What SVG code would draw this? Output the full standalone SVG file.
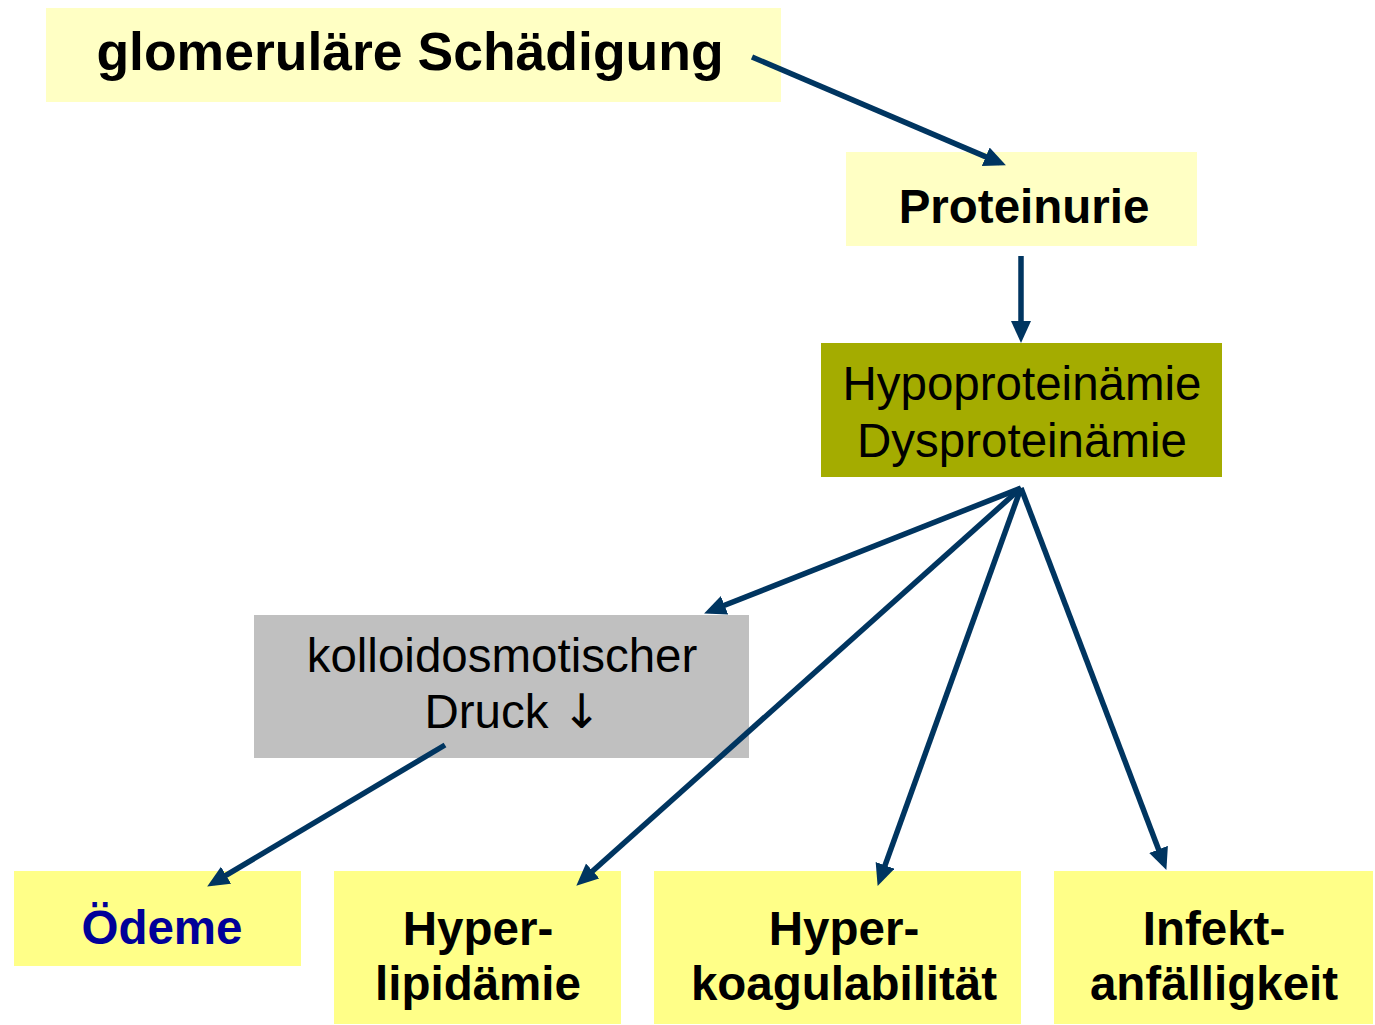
<svg xmlns="http://www.w3.org/2000/svg" width="1375" height="1025" viewBox="0 0 1375 1025">
<style>
.pale{fill:#FFFFC4}
.yel{fill:#FFFF88}
.olive{fill:#A4AC00}
.grey{fill:#C0C0C0}
text{font-family:"Liberation Sans",Arial,sans-serif;text-anchor:middle;fill:#000}
.b{font-weight:bold;font-size:47.5px}
.r{font-size:47.5px}
.conn line{stroke:#003560;stroke-width:5.5;marker-end:url(#ah)}
</style>
<defs>
<marker id="ah" markerUnits="userSpaceOnUse" markerWidth="24" markerHeight="22" refX="15" refY="10" orient="auto">
<path d="M0,0 L22,10 L0,20 z" fill="#003560"/>
</marker>
</defs>
<rect width="1375" height="1025" fill="#fff"/>
<g id="glom"><rect class="pale" x="46" y="8" width="735" height="94"/><text class="b" x="410" y="70" style="font-size:53.5px">glomeruläre Schädigung</text></g>
<g id="prot"><rect class="pale" x="846" y="152" width="351" height="94"/><text class="b" x="1024" y="223">Proteinurie</text></g>
<g id="hypo"><rect class="olive" x="821" y="343" width="401" height="134"/><text class="r" x="1022" y="400">Hypoproteinämie</text><text class="r" x="1022" y="457">Dysproteinämie</text></g>
<g id="kolloid"><rect class="grey" x="254" y="615" width="495" height="143"/><text class="r" x="502" y="672">kolloidosmotischer</text><text class="r" x="513" y="728">Druck <tspan style="font-family:'DejaVu Sans',sans-serif">↓</tspan></text></g>
<g id="oedeme"><rect class="yel" x="14" y="871" width="287" height="95"/><text class="b" x="162" y="944" style="fill:#000099">Ödeme</text></g>
<g id="lipid"><rect class="yel" x="334" y="871" width="287" height="153"/><text class="b" x="478" y="945">Hyper-</text><text class="b" x="478" y="1000">lipidämie</text></g>
<g id="koag"><rect class="yel" x="654" y="871" width="367" height="153"/><text class="b" x="844" y="945">Hyper-</text><text class="b" x="844" y="1000">koagulabilität</text></g>
<g id="infekt"><rect class="yel" x="1054" y="871" width="319" height="153"/><text class="b" x="1214" y="945">Infekt-</text><text class="b" x="1214" y="1000">anfälligkeit</text></g>
<g class="conn" id="connectors">
<line x1="752" y1="57" x2="999.5" y2="162.6"/>
<line x1="1021" y1="256" x2="1021" y2="336"/>
<line x1="1021" y1="488" x2="710.6" y2="610.8"/>
<line x1="1021" y1="488" x2="581.5" y2="881"/>
<line x1="1021" y1="488" x2="880" y2="879.4"/>
<line x1="1021" y1="488" x2="1163.9" y2="863.4"/>
<line x1="445" y1="745" x2="213.2" y2="882.9"/>
</g>
</svg>
